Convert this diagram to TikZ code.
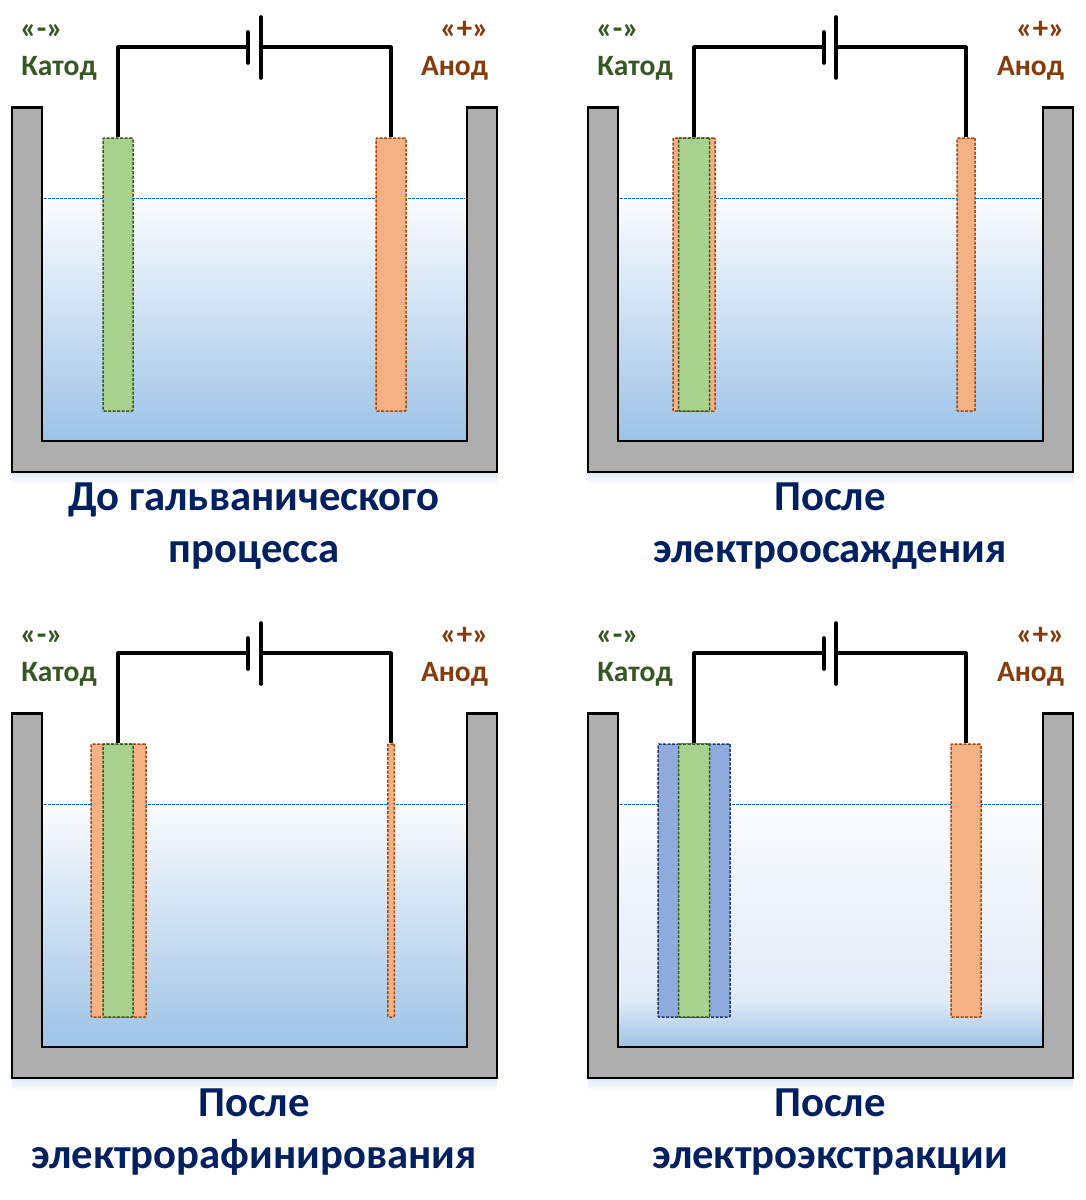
\documentclass[tikz,border=0pt]{standalone}
\usepackage{fontspec}
\setmainfont{Carlito}
\definecolor{wallgray}{HTML}{AEAEAE}
\definecolor{waterblue}{HTML}{9DC3E6}
\definecolor{waterlight}{HTML}{E1EBF7}
\definecolor{linewater}{HTML}{0070C0}
\definecolor{greenfill}{HTML}{A9D18E}
\definecolor{greenline}{HTML}{385723}
\definecolor{orangefill}{HTML}{F4B183}
\definecolor{orangeline}{HTML}{A5480E}
\definecolor{bluefill}{HTML}{8FAADC}
\definecolor{blueline}{HTML}{1F3864}
\definecolor{anodetext}{HTML}{843C0C}
\definecolor{titlecol}{HTML}{002060}
\definecolor{glow}{HTML}{DCE8F5}
\tikzset{
  x=1pt,y=-1pt,
  wall/.style={draw=black,line width=2.4pt,fill=wallgray,line join=miter},
  wire/.style={draw=black,line width=3.2pt,line join=round},
  plate/.style={draw=black,line width=3.6pt,line cap=round},
  waterline/.style={draw=linewater,line width=1.4pt,dash pattern=on 3pt off 1pt},
  electrode/.style={rectangle,inner sep=0pt,minimum height=273pt,rounded corners=1pt,line width=1.5pt,dash pattern=on 3pt off 1.5pt},
  green el/.style={electrode,fill=greenfill,draw=greenline},
  orange el/.style={electrode,fill=orangefill,draw=orangeline},
  blue el/.style={electrode,fill=bluefill,draw=blueline},
  small label/.style={inner sep=0pt,anchor=base,font=\fontsize{31}{31}\selectfont\bfseries},
  big label/.style={inner sep=0pt,anchor=base,font=\fontsize{29.5}{29.5}\selectfont\bfseries},
  title label/.style={inner sep=0pt,align=center,text=titlecol,font=\fontsize{42.7}{52}\selectfont\bfseries},
}
% vessel, water line, terminal texts
\newcommand{\vesselback}{%
  \fill[top color=glow,bottom color=white] (12,472) rectangle (497,484);
  \path[wall] (12,107.5) -- (42,107.5) -- (42,441) -- (467,441) -- (467,107.5) -- (497,107.5) -- (497,472) -- (12,472) -- cycle;
  \draw[waterline] (44,198.5) -- (465,198.5);
  \node[small label,text=greenline] (minus) at (41.5,38.5) {«-»};
  \node[big label,text=greenline] (katod) at (59,75) {Катод};
  \node[small label,text=anodetext] (plus) at (464.5,38.5) {«+»};
  \node[big label,text=anodetext] (anod) at (454.5,75) {Анод};
}
% battery with wires; needs nodes k (cathode) and a (anode)
\newcommand{\battery}[1]{%
  \coordinate (pn) at (248,47);
  \coordinate (pp) at (#1,47);
  \coordinate (pnt) at (248,32); \coordinate (pnb) at (248,63);
  \coordinate (ppt) at (#1,17); \coordinate (ppb) at (#1,78);
  \draw[wire] (k.north) |- (pn);
  \draw[wire] (a.north) |- (pp);
  \draw[plate] (pnt) -- (pnb);
  \draw[plate] (ppt) -- (ppb);
}
\begin{document}
\begin{tikzpicture}
\useasboundingbox (0,0) rectangle (1086,1200);
\fill[white] (0,0) rectangle (1086,1200);

% Panel 1
\begin{scope}[name prefix=p1-]
  \shade[top color=white!95!waterblue,bottom color=waterblue] (43,198) rectangle (466,440);
  \vesselback
  \node[green el,minimum width=30pt] (k) at (118,274.5) {};
  \node[orange el,minimum width=30pt] (a) at (391,274.5) {};
  \battery{261}
  \node[title label] (t) at (254,526) {До гальванического\\процесса};
\end{scope}

% Panel 2
\begin{scope}[shift={(576,0)},name prefix=p2-]
  \shade[top color=white!95!waterblue,bottom color=waterblue] (43,198) rectangle (466,440);
  \vesselback
  \node[orange el,minimum width=42pt] (c) at (118,274.5) {};
  \node[green el,minimum width=31pt] (k) at (118,274.5) {};
  \node[orange el,minimum width=18pt] (a) at (390,274.5) {};
  \battery{260}
  \node[title label] (t) at (254,526) {После\\электроосаждения};
\end{scope}

% Panel 3
\begin{scope}[shift={(0,606)},name prefix=p3-]
  \shade[top color=white!95!waterblue,bottom color=waterblue] (43,198) rectangle (466,440);
  \vesselback
  \node[orange el,minimum width=55pt] (c) at (118.5,274.5) {};
  \node[green el,minimum width=30pt] (k) at (118,274.5) {};
  \node[orange el,minimum width=6.5pt] (a) at (391,274.5) {};
  \battery{261}
  \node[title label] (t) at (254,526) {После\\электрорафинирования};
\end{scope}

% Panel 4
\begin{scope}[shift={(576,606)},name prefix=p4-]
  \shade[top color=white!95!waterblue,bottom color=waterlight] (43,198) rectangle (466,395);
  \shade[top color=waterlight,bottom color=waterblue] (43,395) rectangle (466,440);
  \vesselback
  \node[blue el,minimum width=72pt] (c) at (118,274.5) {};
  \node[green el,minimum width=31pt] (k) at (118,274.5) {};
  \node[orange el,minimum width=30pt] (a) at (390,274.5) {};
  \battery{260}
  \node[title label] (t) at (254,526) {После\\электроэкстракции};
\end{scope}
\end{tikzpicture}
\end{document}
